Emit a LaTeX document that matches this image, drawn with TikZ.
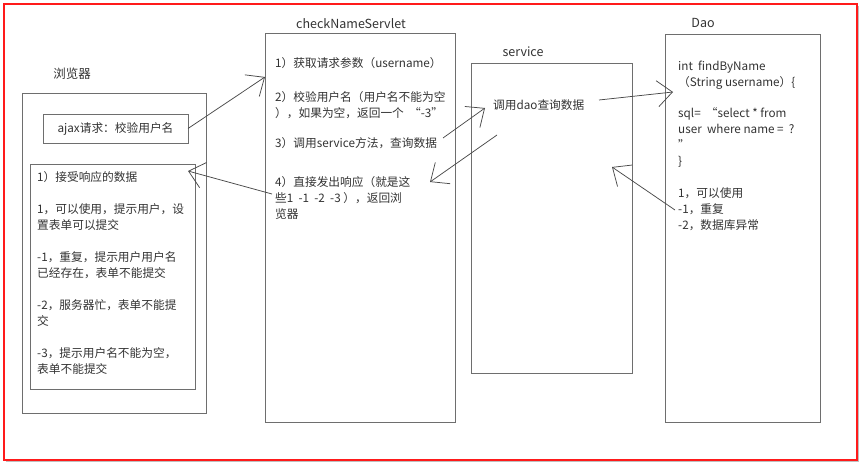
\documentclass[tikz,border=0pt]{standalone}
\usepackage{fontspec}
\setmainfont{Noto Sans CJK SC}
\usetikzlibrary{arrows.meta,shadows}
\definecolor{boxline}{HTML}{6E6E6E}
\definecolor{txtc}{HTML}{333333}
\definecolor{linec}{HTML}{4A4A4A}
\definecolor{framered}{HTML}{FF1A1A}
\begin{document}
\begin{tikzpicture}[x=1pt,y=-1pt,
  box/.style={draw=boxline, line width=0.9pt, fill=white, inner sep=0pt, outer sep=0pt, anchor=north west,
    drop shadow={shadow xshift=1pt, shadow yshift=-1pt, fill=black!30, opacity=1}},
  para/.style={text=txtc, font=\fontsize{11.7}{16}\selectfont, inner sep=0pt, align=left, anchor=north west},
  lbl/.style={text=txtc, font=\fontsize{12.5}{14}\selectfont, inner sep=0pt},
  arr/.style={draw=linec, line width=0.75pt, -{Straight Barb[length=15pt,width=26pt,line width=0.75pt]}}]
\useasboundingbox (0,0) rectangle (862,465);
\fill[white] (0,0) rectangle (862,465);
% outer red frame
\node[draw=framered, line width=2.6pt, fill=white, inner sep=0pt, outer sep=0pt, anchor=north west,
  minimum width=853pt, minimum height=456pt,
  drop shadow={shadow xshift=2pt, shadow yshift=-2pt, fill=black!25, opacity=1}] (frame) at (4,4) {};

% browser
\node[lbl] (lblBrowser) at (72,74) {浏览器};
\node[box, minimum width=184pt, minimum height=320pt] (browser) at (22,93) {};
\node[box, minimum width=145pt, minimum height=29pt] (ajax) at (43,114) {};
\node[text=txtc, font=\fontsize{11.7}{16}\selectfont, inner sep=0pt] (ajaxtxt) at (ajax.center) {ajax请求：校验用户名};
\node[box, minimum width=165pt, minimum height=225pt] (resp) at (30,164) {};
\node[para] (resptxt) at (37,170) {\strut 1）接受响应的数据\\[16pt]
1，可以使用，提示用户，设\\置表单可以提交\\[16pt]
-1，重复，提示用户用户名\\已经存在，表单不能提交\\[16pt]
-2，服务器忙，表单不能提\\交\\[16pt]
-3，提示用户名不能为空，\\表单不能提交};

% servlet
\node[lbl] (lblServlet) at (351,24) {checkNameServlet};
\node[box, minimum width=190pt, minimum height=389pt] (servlet) at (265,33) {};
\node[para] (s1) at (275,56) {\strut 1）获取请求参数（username）};
\node[para] (s2) at (275,90) {\strut 2）校验用户名（用户名不能为空\\），如果为空，返回一个~~“-3”};
\node[para] (s3) at (275,136) {\strut 3）调用service方法，查询数据};
\node[para] (s4) at (275,175) {\strut 4）直接发出响应（就是这\\些1~~-1~~-2~~-3~），返回浏\\览器};

% service
\node[lbl] (lblService) at (523,52) {service};
\node[box, minimum width=161pt, minimum height=310pt] (service) at (471,63) {};
\node[para] (sv1) at (493,98) {\strut 调用dao查询数据};

% dao
\node[lbl] (lblDao) at (703,23) {Dao};
\node[box, minimum width=155pt, minimum height=388pt] (dao) at (665,34) {};
\node[para] (d1) at (678,59) {\strut int~~findByName\\（String username）\{};
\node[para] (d2) at (678,106) {\strut sql=~~“select * from\\user~~where name =~~?\\”\\\}};
\node[para] (d3) at (678,186) {\strut 1，可以使用\\-1，重复\\-2，数据库异常};

% connector end points
\coordinate (c1e) at (265,77);
\coordinate (c2s) at (272,194);
\coordinate (c2e) at (188,171);
\coordinate (c3s) at (443,138);
\coordinate (c3e) at (485,108);
\coordinate (c4s) at (497,135);
\coordinate (c4e) at (430,182);
\coordinate (c5s) at (599,100);
\coordinate (c5e) at (673,92);
\coordinate (c6s) at (675,210);
\coordinate (c6e) at (612,167);

\draw[arr] (ajax.east) -- (c1e);
\draw[arr] (c2s) -- (c2e);
\draw[arr] (c3s) -- (c3e);
\draw[arr] (c4s) -- (c4e);
\draw[arr] (c5s) -- (c5e);
\draw[arr] (c6s) -- (c6e);
\end{tikzpicture}
\end{document}
